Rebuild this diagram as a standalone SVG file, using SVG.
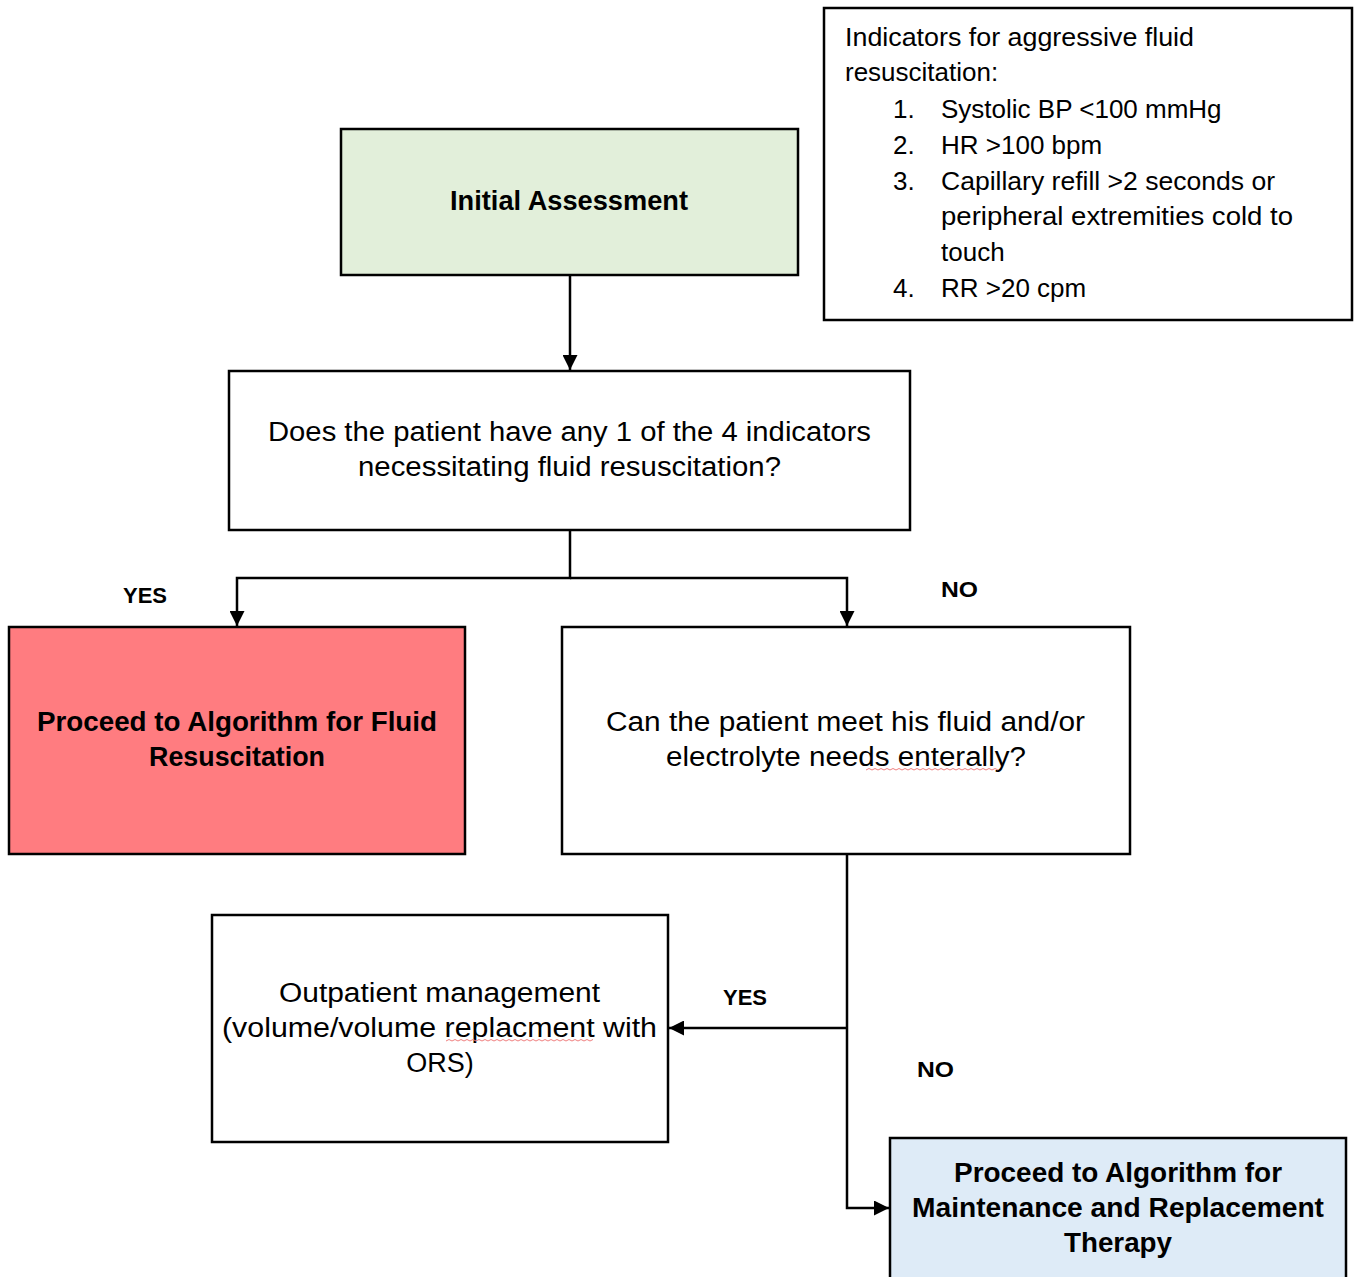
<svg xmlns="http://www.w3.org/2000/svg" width="1354" height="1277" viewBox="0 0 1354 1277">
<style>
.box{stroke:#000;stroke-width:2.5}
.t{font-family:"Liberation Sans",Arial,sans-serif;font-size:26px;fill:#000}
.m{font-size:27px}
.b{font-weight:bold}
.c{text-anchor:middle}
.lbl{font-family:"Liberation Sans",Arial,sans-serif;font-size:22px;font-weight:bold;fill:#000;text-anchor:middle}
.conn{fill:none;stroke:#000;stroke-width:2.5}
.sq{fill:none;stroke:#f08080;stroke-width:1}
</style>
<defs>
<marker id="arr" viewBox="0 0 10 10" refX="10" refY="5" markerWidth="6" markerHeight="6" orient="auto" markerUnits="strokeWidth">
<path d="M0,0 L10,5 L0,10 Z" fill="#000"/>
</marker>
</defs>
<rect width="1354" height="1277" fill="#fff"/>

<g id="indicators">
<rect class="box" x="824" y="8" width="528" height="312" fill="#fff"/>
<text class="t" x="845" y="46" textLength="349" lengthAdjust="spacingAndGlyphs">Indicators for aggressive fluid</text>
<text class="t" x="845" y="81">resuscitation:</text>
<text class="t" x="893" y="118">1.</text><text class="t" x="941" y="118">Systolic BP &lt;100 mmHg</text>
<text class="t" x="893" y="154">2.</text><text class="t" x="941" y="154">HR &gt;100 bpm</text>
<text class="t" x="893" y="190">3.</text><text class="t" x="941" y="190" textLength="334" lengthAdjust="spacingAndGlyphs">Capillary refill &gt;2 seconds or</text>
<text class="t" x="941" y="225" textLength="352" lengthAdjust="spacingAndGlyphs">peripheral extremities cold to</text>
<text class="t" x="941" y="261">touch</text>
<text class="t" x="893" y="297">4.</text><text class="t" x="941" y="297">RR &gt;20 cpm</text>
</g>

<g id="initial">
<rect class="box" x="341" y="129" width="457" height="146" fill="#e2efda"/>
<text class="t m b c" x="569" y="210" textLength="238" lengthAdjust="spacingAndGlyphs">Initial Assessment</text>
</g>

<g id="decision1">
<rect class="box" x="229" y="371" width="681" height="159" fill="#fff"/>
<text class="t m c" x="569.5" y="441" textLength="603" lengthAdjust="spacingAndGlyphs">Does the patient have any 1 of the 4 indicators</text>
<text class="t m c" x="569.5" y="476" textLength="423" lengthAdjust="spacingAndGlyphs">necessitating fluid resuscitation?</text>
</g>

<g id="fluid-resus">
<rect class="box" x="9" y="627" width="456" height="227" fill="#ff7c80"/>
<text class="t m b c" x="237" y="731" textLength="400" lengthAdjust="spacingAndGlyphs">Proceed to Algorithm for Fluid</text>
<text class="t m b c" x="237" y="766" textLength="176" lengthAdjust="spacingAndGlyphs">Resuscitation</text>
</g>

<g id="decision2">
<rect class="box" x="562" y="627" width="568" height="227" fill="#fff"/>
<text class="t m c" x="845.5" y="731" textLength="479" lengthAdjust="spacingAndGlyphs">Can the patient meet his fluid and/or</text>
<text class="t m c" x="846" y="766" textLength="360" lengthAdjust="spacingAndGlyphs">electrolyte needs enterally?</text>
<path class="sq" d="M866,770 l3,-1.5 l3,1.5 l3,-1.5 l3,1.5 l3,-1.5 l3,1.5 l3,-1.5 l3,1.5 l3,-1.5 l3,1.5 l3,-1.5 l3,1.5 l3,-1.5 l3,1.5 l3,-1.5 l3,1.5 l3,-1.5 l3,1.5 l3,-1.5 l3,1.5 l3,-1.5 l3,1.5 l3,-1.5 l3,1.5 l3,-1.5 l3,1.5 l3,-1.5 l3,1.5 l3,-1.5 l3,1.5 l3,-1.5 l3,1.5 l3,-1.5 l3,1.5 l3,-1.5 l3,1.5 l3,-1.5 l3,1.5 l3,-1.5 l3,1.5 l3,-1.5 l3,1.5 l3,-1.5 l3,1.5"/>
</g>

<g id="outpatient">
<rect class="box" x="212" y="915" width="456" height="227" fill="#fff"/>
<text class="t m c" x="439.5" y="1002" textLength="321" lengthAdjust="spacingAndGlyphs">Outpatient management</text>
<text class="t m c" x="439.5" y="1037" textLength="435" lengthAdjust="spacingAndGlyphs">(volume/volume replacment with</text>
<text class="t m c" x="440" y="1072">ORS)</text>
<path class="sq" d="M446,1041 l3,-1.5 l3,1.5 l3,-1.5 l3,1.5 l3,-1.5 l3,1.5 l3,-1.5 l3,1.5 l3,-1.5 l3,1.5 l3,-1.5 l3,1.5 l3,-1.5 l3,1.5 l3,-1.5 l3,1.5 l3,-1.5 l3,1.5 l3,-1.5 l3,1.5 l3,-1.5 l3,1.5 l3,-1.5 l3,1.5 l3,-1.5 l3,1.5 l3,-1.5 l3,1.5 l3,-1.5 l3,1.5 l3,-1.5 l3,1.5 l3,-1.5 l3,1.5 l3,-1.5 l3,1.5 l3,-1.5 l3,1.5 l3,-1.5 l3,1.5 l3,-1.5 l3,1.5 l3,-1.5 l3,1.5 l3,-1.5 l3,1.5 l3,-1.5 l3,1.5 l3,-1.5"/>
</g>

<g id="maintenance">
<rect class="box" x="890" y="1138" width="456" height="150" fill="#deebf7"/>
<text class="t m b c" x="1118" y="1182" textLength="328" lengthAdjust="spacingAndGlyphs">Proceed to Algorithm for</text>
<text class="t m b c" x="1118" y="1217" textLength="412" lengthAdjust="spacingAndGlyphs">Maintenance and Replacement</text>
<text class="t m b c" x="1118" y="1252" textLength="108" lengthAdjust="spacingAndGlyphs">Therapy</text>
</g>

<g id="connectors">
<path class="conn" d="M570,275 V370" marker-end="url(#arr)"/>
<path class="conn" d="M570,530 V578 H237 V626" marker-end="url(#arr)"/>
<path class="conn" d="M570,578 H847 V626" marker-end="url(#arr)"/>
<path class="conn" d="M847,854 V1208 H889" marker-end="url(#arr)"/>
<path class="conn" d="M847,1028 H669" marker-end="url(#arr)"/>
</g>

<g id="labels">
<text class="lbl" x="145" y="603">YES</text>
<text class="lbl" x="959.5" y="597" textLength="37" lengthAdjust="spacingAndGlyphs">NO</text>
<text class="lbl" x="745" y="1005">YES</text>
<text class="lbl" x="935.5" y="1077" textLength="37" lengthAdjust="spacingAndGlyphs">NO</text>
</g>
</svg>
